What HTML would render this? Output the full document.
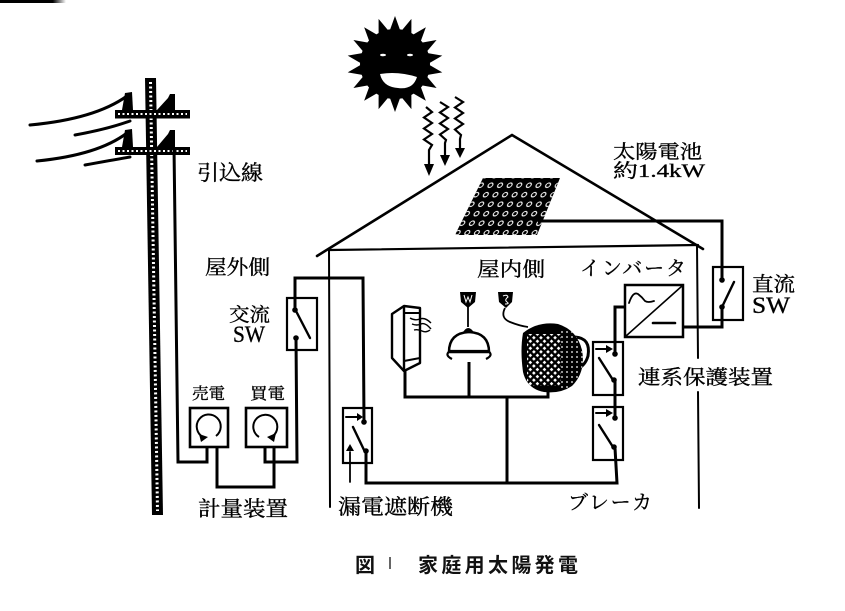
<!DOCTYPE html>
<html><head><meta charset="utf-8"><style>
html,body{margin:0;padding:0;background:#fff;}
svg{display:block}
.t{font-family:"Liberation Serif","Noto Serif CJK SC","Noto Serif CJK JP",serif;fill:#000;stroke:#000;stroke-width:0.35}
.c{font-family:"Liberation Sans","Noto Sans CJK JP",sans-serif;font-weight:bold;fill:#111}
</style></head><body>
<svg width="845" height="611" viewBox="0 0 845 611" xmlns="http://www.w3.org/2000/svg">
<defs>
<linearGradient id="bar" x1="0" x2="1"><stop offset="0.8" stop-color="#000"/><stop offset="1" stop-color="#fff"/></linearGradient>
<polygon id="spike" points="395,16 401.5,34 388.5,34" fill="#000"/>
<pattern id="cells" patternUnits="userSpaceOnUse" width="9.6" height="9.5" patternTransform="skewX(-26)"><circle cx="4.8" cy="4.7" r="2.2" fill="none" stroke="#fff" stroke-width="1.1"/></pattern>
<pattern id="chk" patternUnits="userSpaceOnUse" width="5" height="5" patternTransform="rotate(45)"><rect width="2.6" height="2.6" fill="#fff"/></pattern>
<pattern id="stip" patternUnits="userSpaceOnUse" width="5" height="5"><circle cx="2" cy="2" r="0.9" fill="#fff"/></pattern>
<clipPath id="potclip"><path d="M523,333 Q538,321 558,324 Q577,330 582,350 Q586,372 572,386 Q560,394 544,392 Q527,389 523,372 Q520,350 523,333 Z"/></clipPath>
</defs>

<!-- top-left scan bar -->
<rect x="0" y="0" width="66" height="3" fill="url(#bar)"/>

<!-- utility pole -->
<g>
<polygon points="145,78 156,78 163,515 152,515" fill="#000"/>
<line x1="150.5" y1="82" x2="157.5" y2="511" stroke="#fff" stroke-width="3" stroke-dasharray="2 2.5"/>
<rect x="115" y="110" width="75" height="8.5" fill="#000"/>
<line x1="118" y1="114" x2="187" y2="114" stroke="#fff" stroke-width="2" stroke-dasharray="2 2.5"/>
<rect x="115" y="147" width="75" height="8" fill="#000"/>
<line x1="118" y1="151" x2="187" y2="151" stroke="#fff" stroke-width="2" stroke-dasharray="2 2.5"/>
<polygon points="122,110 125,93 132,92 133,110" fill="#000"/>
<polygon points="157,110 168,98 170,94 175,94 175,110" fill="#000"/>
<polygon points="122,147 125,130 132,129 133,147" fill="#000"/>
<polygon points="157,147 168,134 170,130 175,130 175,147" fill="#000"/>
<g fill="none" stroke="#000" stroke-width="3" stroke-linecap="round">
<path d="M30,125 Q95,119 127,96"/>
<path d="M75,135 Q108,129 130,121"/>
<path d="M37,161 Q98,155 127,133"/>
<path d="M85,165 Q112,160 130,157"/>
</g>
</g>

<!-- sun -->
<g>
<circle cx="395" cy="64" r="35" fill="#000"/>
<use href="#spike"/>
<use href="#spike" transform="rotate(20 395 64)"/>
<use href="#spike" transform="rotate(40 395 64)"/>
<use href="#spike" transform="rotate(60 395 64)"/>
<use href="#spike" transform="rotate(80 395 64)"/>
<use href="#spike" transform="rotate(100 395 64)"/>
<use href="#spike" transform="rotate(120 395 64)"/>
<use href="#spike" transform="rotate(140 395 64)"/>
<use href="#spike" transform="rotate(160 395 64)"/>
<use href="#spike" transform="rotate(180 395 64)"/>
<use href="#spike" transform="rotate(200 395 64)"/>
<use href="#spike" transform="rotate(220 395 64)"/>
<use href="#spike" transform="rotate(240 395 64)"/>
<use href="#spike" transform="rotate(260 395 64)"/>
<use href="#spike" transform="rotate(280 395 64)"/>
<use href="#spike" transform="rotate(300 395 64)"/>
<use href="#spike" transform="rotate(320 395 64)"/>
<use href="#spike" transform="rotate(340 395 64)"/>
<ellipse cx="383" cy="55" rx="3" ry="1.3" fill="#fff"/>
<ellipse cx="410" cy="55" rx="3" ry="1.3" fill="#fff"/>
<path d="M380,74 Q398,71 417,77 Q413,90 398,88 Q383,87 380,74 Z" fill="#fff"/>
</g>

<!-- rays -->
<g fill="none" stroke="#000" stroke-width="2.2" stroke-linejoin="miter">
<polyline points="426,107 432,112 424,117.5 432,123 424,128.5 432,134 424,139.5 432,145 429,150 429,166"/>
<polyline points="440,102 448,107 440,112.5 448,118 440,123.5 448,129 440,134.5 446,140 445,143 445,157"/>
<polyline points="455,97 463,102 455,107.5 463,113 455,118.5 463,124 455,129.5 461,135 460,139 460,150"/>
</g>
<polygon points="424,164 434,164 429,176" fill="#000"/>
<polygon points="440,155 450,155 445,166" fill="#000"/>
<polygon points="455,148 465,148 460,158" fill="#000"/>

<!-- house outline -->
<g fill="none" stroke="#000" stroke-linecap="round">
<polyline points="317,256 512,135 703,249" stroke-width="2.6"/>
<line x1="330" y1="250" x2="698" y2="245" stroke-width="2.2"/>
<line x1="329" y1="250" x2="330" y2="507" stroke-width="2"/>
<line x1="697" y1="245" x2="698" y2="358" stroke-width="2"/>
<line x1="698" y1="392" x2="699" y2="508" stroke-width="2"/>
</g>

<!-- solar panel -->
<polygon points="483,178 560,178 537,235 455,235" fill="#000"/>
<polygon points="483,178 560,178 537,235 455,235" fill="url(#cells)"/>

<!-- wiring (thick) -->
<g fill="none" stroke="#000" stroke-width="3" stroke-linejoin="miter">
<polyline points="174,147 178,462 207,462 207,447"/>
<polyline points="217,447 217,487 274,487 274,447"/>
<polyline points="265,447 265,462 297,462 296,338"/>
<polyline points="295,309 295,278 363,278 364,422"/>
<polyline points="366,452 366,483 617,483 615,448"/>
<line x1="507" y1="397" x2="507" y2="483"/>
<polyline points="405,370 405,397 548,397 548,388"/>
<line x1="469" y1="362" x2="469" y2="397"/>
<polyline points="625,307 615,307 615,353"/>
<line x1="615" y1="380" x2="615" y2="418"/>
<polyline points="538,221 722,221 722,279"/>
<polyline points="722,307 722,327 684,327"/>
</g>

<!-- switch boxes -->
<g fill="none" stroke="#000" stroke-width="2.2">
<rect x="287" y="298" width="30" height="52"/>
<rect x="343" y="408" width="29" height="55"/>
<rect x="593" y="342" width="30" height="53"/>
<rect x="593" y="407" width="30" height="53"/>
<rect x="713" y="267" width="30" height="53"/>
<rect x="625" y="285" width="58" height="52" stroke-width="2.5"/>
<rect x="190" y="408" width="38" height="39" stroke-width="2.6"/>
<rect x="246" y="408" width="41" height="39" stroke-width="2.6"/>
</g>

<!-- switch blades & contacts -->
<g stroke="#000" stroke-width="2.4" fill="none" stroke-linecap="round">
<line x1="296" y1="311" x2="310" y2="338"/>
<line x1="353" y1="427" x2="365" y2="452"/>
<line x1="346" y1="417" x2="358" y2="417" stroke-width="2"/>
<line x1="350" y1="482" x2="350" y2="452" stroke-width="1.8"/>
<line x1="599" y1="358" x2="613" y2="380"/>
<line x1="596" y1="349" x2="608" y2="349" stroke-width="2"/>
<line x1="599" y1="425" x2="613" y2="447"/>
<line x1="596" y1="413" x2="608" y2="413" stroke-width="2"/>
<line x1="734" y1="282" x2="722" y2="307"/>
<line x1="626" y1="336" x2="682" y2="286" stroke-width="1.6"/>
<path d="M629,303 Q633,291 638,294 Q642,297 645,301 Q648,303 654,301" stroke-width="1.8"/>
<line x1="653" y1="323" x2="675" y2="323" stroke-width="2.6"/>
</g>
<g fill="#000">
<circle cx="295" cy="310" r="2.8"/><circle cx="296" cy="338" r="2.8"/>
<circle cx="364" cy="422" r="2.8"/><circle cx="366" cy="451" r="2.8"/>
<circle cx="615" cy="354" r="2.8"/><circle cx="614" cy="380" r="2.8"/>
<circle cx="615" cy="418" r="2.8"/><circle cx="614" cy="447" r="2.8"/>
<circle cx="722" cy="280" r="2.8"/><circle cx="722" cy="307" r="2.8"/>
<polygon points="357,413 363,417 357,421"/>
<polygon points="346,451 350,444 354,451"/>
<polygon points="606,345 613,349 606,353"/>
<polygon points="606,409 613,413 606,417"/>
</g>

<!-- meter dials -->
<g fill="none" stroke="#000" stroke-width="2">
<path d="M216,436 A12,12 0 1,0 203,437"/>
<path d="M259,437 A12,12 0 1,1 273,436"/>
</g>
<polygon points="199,434 208,437 201,442" fill="#000"/>
<polygon points="276,433 267,437 274,442" fill="#000"/>

<!-- heater appliance -->
<g fill="#fff" stroke="#000" stroke-width="2.4" stroke-linejoin="round">
<path d="M392,314 L404,306 L420,308 L420,363 L404,371 L392,358 Z"/>
<line x1="404" y1="306" x2="404" y2="371"/>
<line x1="404" y1="313" x2="420" y2="313" stroke-width="2"/>
<line x1="404" y1="361" x2="420" y2="358" stroke-width="2"/>
</g>
<g fill="none" stroke="#000" stroke-width="1.4">
<path d="M410,318 q5,3 10,1 t11,4"/>
<path d="M412,324 q5,2 9,0 t10,5"/>
<path d="M414,330 q4,-1 8,1 t8,-1"/>
</g>

<!-- lamp -->
<path d="M460,292 L476,292 L475,302 L468,308 L461,302 Z" fill="#000"/>
<polyline points="464,295 466,302 468,297 470,302 472,295" fill="none" stroke="#fff" stroke-width="1"/>
<line x1="468" y1="307" x2="468" y2="327" stroke="#000" stroke-width="1.8"/>
<path d="M462,334 Q468,322 475,334 Z" fill="#000"/>
<path d="M449,352 Q449,333 469,332 Q489,333 489,352 Z" fill="#fff" stroke="#000" stroke-width="2.5"/>
<path d="M452,359 Q444,355 450,351 L488,351 Q494,355 486,359" fill="none" stroke="#000" stroke-width="2.2"/>

<!-- pot / cooker -->
<path d="M498,292 L513,292 L512,302 L506,308 L499,302 Z" fill="#000"/>
<path d="M503,296 q4,-2 5,1 q-4,3 -1,5 q3,2 -2,2" fill="none" stroke="#fff" stroke-width="1"/>
<path d="M505,308 Q500,318 510,322 Q520,326 528,327" fill="none" stroke="#000" stroke-width="1.8"/>
<path d="M575,337 Q591,338 588,356 Q585,366 577,369" fill="none" stroke="#000" stroke-width="3"/>
<path d="M523,333 Q538,321 558,324 Q577,330 582,350 Q586,372 572,386 Q560,394 544,392 Q527,389 523,372 Q520,350 523,333 Z" fill="#000"/>
<g clip-path="url(#potclip)">
<rect x="527" y="334" width="34" height="52" fill="url(#chk)"/>
<rect x="561" y="328" width="22" height="60" fill="url(#stip)"/>
</g>

<!-- labels -->
<g class="t">
<text x="197" y="180" font-size="21" textLength="66" lengthAdjust="spacingAndGlyphs">引込線</text>
<text x="205" y="274" font-size="20" textLength="65" lengthAdjust="spacingAndGlyphs">屋外側</text>
<text x="477" y="276" font-size="20" textLength="68" lengthAdjust="spacingAndGlyphs">屋内側</text>
<text x="580" y="275" font-size="20" textLength="106" lengthAdjust="spacing">インバータ</text>
<text x="613" y="158" font-size="19" textLength="89" lengthAdjust="spacingAndGlyphs">太陽電池</text>
<text x="613" y="177" font-size="19" textLength="92" lengthAdjust="spacingAndGlyphs">約1.4kW</text>
<text x="229" y="321" font-size="19" textLength="41" lengthAdjust="spacingAndGlyphs">交流</text>
<text x="233" y="342" font-size="23" textLength="32" lengthAdjust="spacingAndGlyphs">SW</text>
<text x="752" y="291" font-size="20" textLength="43" lengthAdjust="spacingAndGlyphs">直流</text>
<text x="752" y="313" font-size="23" textLength="38" lengthAdjust="spacingAndGlyphs">SW</text>
<text x="192" y="399" font-size="16" textLength="33" lengthAdjust="spacingAndGlyphs">売電</text>
<text x="250" y="399" font-size="16" textLength="35" lengthAdjust="spacingAndGlyphs">買電</text>
<text x="198" y="516" font-size="21" textLength="90" lengthAdjust="spacingAndGlyphs">計量装置</text>
<text x="338" y="514" font-size="21" textLength="115" lengthAdjust="spacingAndGlyphs">漏電遮断機</text>
<text x="638" y="384" font-size="20" textLength="135" lengthAdjust="spacingAndGlyphs">連系保護装置</text>
<text x="568" y="509" font-size="20" textLength="84" lengthAdjust="spacing">ブレーカ</text>
</g>

<!-- caption -->
<text class="c" x="355" y="572" font-size="20">図</text>
<line x1="390" y1="557" x2="390" y2="569" stroke="#333" stroke-width="1.5"/>
<text class="c" x="418" y="572" font-size="20" textLength="160" lengthAdjust="spacing">家庭用太陽発電</text>
</svg>
</body></html>
